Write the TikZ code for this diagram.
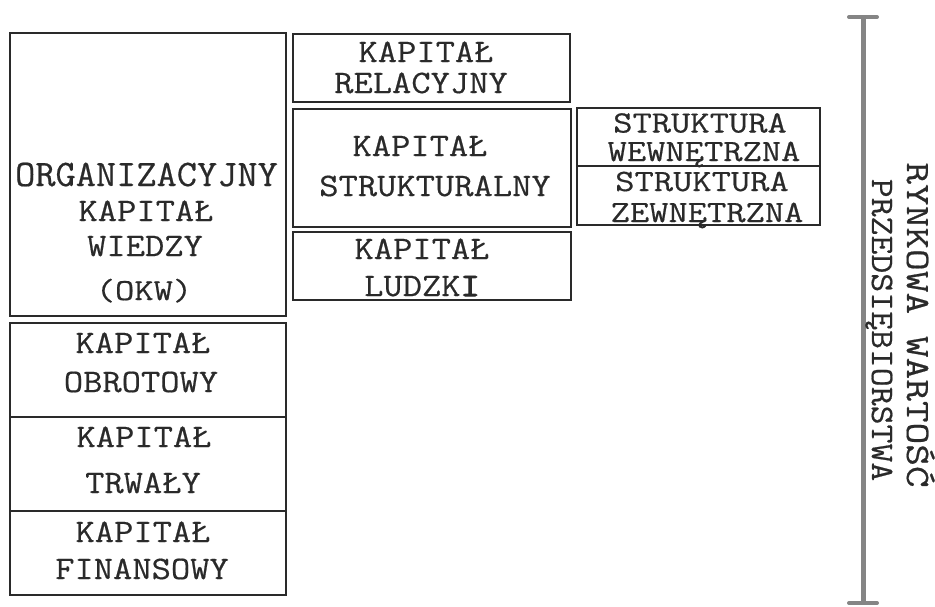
\documentclass[tikz,border=0pt]{standalone}
\usepackage{graphicx}
\usepackage{fontspec}
\setmonofont{Latin Modern Mono}[FakeBold=0.5]
\newfontfamily\heavymono{Latin Modern Mono}[FakeBold=3]
\definecolor{barg}{HTML}{858585}
\definecolor{ink}{HTML}{2A2A2A}
\newcommand\ltx[3]{\scalebox{#1}[#2]{#3}}
\newcommand\nl[1]{\scalebox{1.04}[0.91]{#1}}
\newcommand\nlt[1]{\scalebox{1.04}[0.86]{#1}}
\tikzset{
  box/.style={draw=ink, line width=1.3pt, rectangle, inner sep=0pt, outer sep=0pt},
  lbl/.style={inner sep=0pt, anchor=base, text=ink, font=\fontsize{36}{40}\selectfont\ttfamily},
  bar/.style={draw=barg, line width=5pt},
  barcap/.style={draw=barg, line width=4pt, line cap=round},
}
\begin{document}
\begin{tikzpicture}[x=1pt,y=1pt]
\useasboundingbox (0,0) rectangle (935,-606);
% boxes
\node[box, minimum width=276pt, minimum height=283pt] (okw) at (148,-174.5) {};
\node[box, minimum width=276pt, minimum height=94pt] (obr) at (148,-370) {};
\node[box, minimum width=276pt, minimum height=94pt] (trw) at (148,-464) {};
\node[box, minimum width=276pt, minimum height=84pt] (fin) at (148,-553) {};
\node[box, minimum width=277pt, minimum height=68pt] (rel) at (431.5,-68) {};
\node[box, minimum width=278pt, minimum height=118pt] (str) at (432,-168) {};
\node[box, minimum width=278pt, minimum height=68pt] (lud) at (432,-266) {};
\node[box, minimum width=243pt, minimum height=58pt] (wew) at (698.5,-137) {};
\node[box, minimum width=243pt, minimum height=59pt] (zew) at (698.5,-195.5) {};
% OKW text
\node[lbl] (okw1) at (146.5,-186) {\ltx{1.09}{1.04}{ORGANIZACYJNY}};
\node[lbl] (okw2) at (146,-221) {\nl{KAPITAŁ}};
\node[lbl] (okw3) at (145,-256) {\nl{WIEDZY}};
\node[lbl] (okw4) at (144,-300) {\ltx{1.04}{0.85}{(OKW)}};
% lower boxes
\node[lbl] (obr1) at (143,-353) {\nl{KAPITAŁ}};
\node[lbl] (obr2) at (141,-392) {\nl{OBROTOWY}};
\node[lbl] (trw1) at (144,-447) {\nl{KAPITAŁ}};
\node[lbl] (trw2) at (143,-493) {\nl{TRWAŁY}};
\node[lbl] (fin1) at (143,-542) {\nl{KAPITAŁ}};
\node[lbl] (fin2) at (142,-579) {\nl{FINANSOWY}};
% middle column
\node[lbl] (rel1) at (426,-62) {\nl{KAPITAŁ}};
\node[lbl] (rel2) at (421,-93) {\nl{RELACYJNY}};
\node[lbl] (str1) at (420,-156) {\nl{KAPITAŁ}};
\node[lbl] (str2) at (435,-196) {\nl{STRUKTURALNY}};
\node[lbl] (lud1) at (422,-259) {\nl{KAPITAŁ}};
\node[lbl] (lud2) at (422,-296) {\nl{LUDZK{\heavymono I}}};
% right column
\node[lbl] (wew1) at (700,-132.5) {\nlt{STRUKTURA}};
\node[lbl] (wew2) at (704,-161) {\nlt{WEWNĘTRZNA}};
\node[lbl] (zew1) at (702,-191) {\nlt{STRUKTURA}};
\node[lbl] (zew2) at (707,-222) {\nlt{ZEWNĘTRZNA}};
% market value bar
\coordinate (bt) at (863,-17);
\coordinate (bb) at (863,-603);
\coordinate (btl) at (849,-17);
\coordinate (btr) at (877,-17);
\coordinate (bbl) at (849,-603);
\coordinate (bbr) at (877,-603);
\draw[bar] (bt) -- (bb);
\draw[barcap] (btl) -- (btr);
\draw[barcap] (bbl) -- (bbr);
\node[lbl, rotate=-90] (rw1) at (907,-325) {\ltx{1.17}{0.95}{RYNKOWA WARTOŚĆ}};
\node[lbl, rotate=-90] (rw2) at (872,-330) {\ltx{1.02}{0.91}{PRZEDSIĘBIORSTWA}};
\end{tikzpicture}
\end{document}
